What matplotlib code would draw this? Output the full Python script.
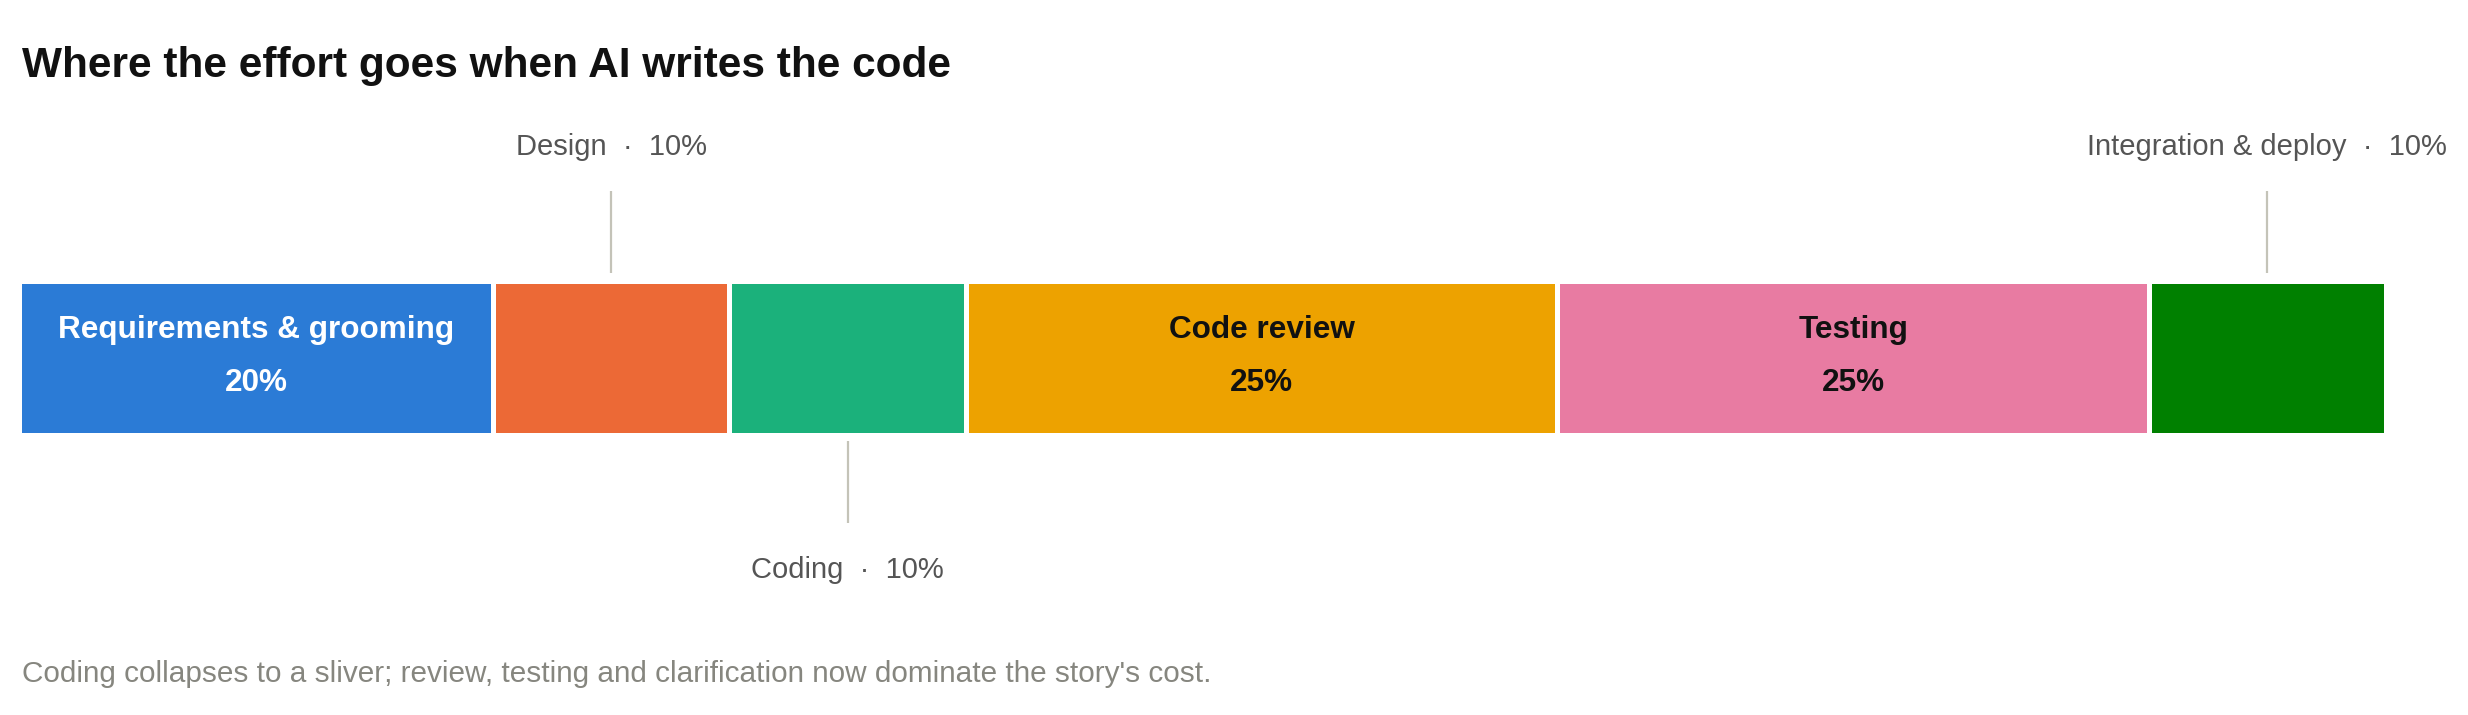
import matplotlib
matplotlib.use("Agg")
import matplotlib.pyplot as plt

# ---- data ----
categories = ["Requirements & grooming", "Design", "Coding", "Code review", "Testing", "Integration & deploy"]
shares = [20, 10, 10, 25, 25, 10]
colors = ["#2B7BD6", "#EC6936", "#1BB17B", "#EDA200", "#E87BA2", "#008000"]
label_mode = ["inside", "above", "below", "inside", "inside", "above"]
inside_text_colors = ["white", None, None, "#111111", "#111111", None]

title = "Where the effort goes when AI writes the code"
footnote = "Coding collapses to a sliver; review, testing and clarification now dominate the story's cost."

# ---- layout ----
W, H = 2468, 715
plt.rcParams['font.family'] = ['Liberation Sans', 'DejaVu Sans']
fig = plt.figure(figsize=(W / 100, H / 100), dpi=100)
fig.patch.set_facecolor("white")
ax = fig.add_axes([19.5 / W, 0, 2366 / W, 1])
ax.set_xlim(0, 100)
ax.set_ylim(H, 0)
ax.axis("off")

bar_y, bar_h = 357.5, 154
lefts = []
acc = 0
for s in shares:
    lefts.append(acc)
    acc += s

ax.barh([bar_y] * len(shares), shares, left=lefts, height=bar_h, color=colors,
        edgecolor="white", linewidth=3.6)

line_color = "#C4C3B8"
label_color = "#555555"
for cat, s, l, mode, tc in zip(categories, shares, lefts, label_mode, inside_text_colors):
    cx = l + s / 2
    pct = f"{s}%"
    if mode == "inside":
        ax.text(cx, 330, cat, ha="center", va="center", color=tc,
                fontsize=22.7, fontweight="bold")
        ax.text(cx, 383, pct, ha="center", va="center", color=tc,
                fontsize=22.7, fontweight="bold")
    elif mode == "above":
        ax.plot([cx, cx], [273, 191], color=line_color, lw=1.6, solid_capstyle="butt")
        ax.text(cx, 147, f"{cat}  \u00b7  {pct}", ha="center", va="center",
                color=label_color, fontsize=21)
    else:
        ax.plot([cx, cx], [441, 523], color=line_color, lw=1.6, solid_capstyle="butt")
        ax.text(cx, 570, f"{cat}  \u00b7  {pct}", ha="center", va="center",
                color=label_color, fontsize=21)

fig.text(22 / W, 1 - 66 / H, title, ha="left", va="center",
         fontsize=30.5, fontweight="bold", color="#111111")
fig.text(22 / W, 1 - 674 / H, footnote, ha="left", va="center",
         fontsize=21.4, color="#86867F")

fig.savefig("out.png", dpi=100, facecolor="white")
